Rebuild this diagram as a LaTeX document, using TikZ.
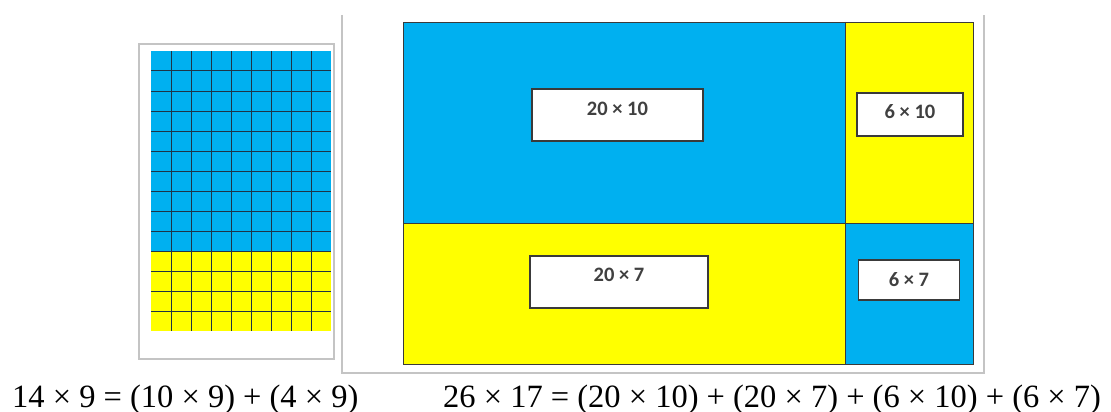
\documentclass[tikz,border=0pt]{standalone}
\usepackage{fontspec}
\newfontfamily\eqfont{Liberation Serif}
\newfontfamily\lblfont{Carlito}
\definecolor{cblue}{HTML}{00B0F0}
\definecolor{cyellow}{HTML}{FFFF00}
\definecolor{frame}{HTML}{C4C4C4}
\definecolor{edge}{HTML}{3A3A3A}
\definecolor{gridc}{HTML}{1E3446}
\definecolor{lbltext}{HTML}{404040}
\tikzset{
  part/.style={draw=edge, line width=0.8pt},
  framebox/.style={draw=frame, line width=1.4pt},
  lbl/.style={draw=edge, fill=white, line width=1.3pt, inner sep=0pt,
    font=\lblfont\bfseries\fontsize{20.5}{24}\selectfont, text=lbltext, text height=12pt},
  eq/.style={font=\eqfont\fontsize{32.5}{38}\selectfont, anchor=base west, inner sep=0pt}
}
\begin{document}
\begin{tikzpicture}[x=1pt,y=-1pt]
\useasboundingbox[fill=white] (0,0) rectangle (1111,412);
% left frame and grid
\draw[framebox] (139,44) rectangle (334,359);
\fill[cblue] (151,51) rectangle (331,251);
\fill[cyellow] (151,251) rectangle (331,331);
\foreach \i in {1,...,8} \draw[gridc, line width=1pt] (151+20*\i,51) -- (151+20*\i,331);
\foreach \j in {1,...,13} \draw[gridc, line width=1pt] (151,51+20*\j) -- (331,51+20*\j);
% right frame (open top)
\draw[framebox] (342,15) -- (342,373) -- (984,373) -- (984,15);
% area model
\fill[cblue] (403,22) rectangle (845,223);
\fill[cyellow] (845,22) rectangle (973,223);
\fill[cyellow] (403,223) rectangle (845,364);
\fill[cblue] (845,223) rectangle (973,364);
\draw[part] (403,22) rectangle (973,364);
\draw[part] (845,22) -- (845,364);
\draw[part] (403,223) -- (973,223);
% labels
\node[lbl, minimum width=171pt, minimum height=52pt, text depth=12pt] (a) at (617.5,115) {20 × 10};
\node[lbl, minimum width=106pt, minimum height=43pt, text depth=5pt] (b) at (910,114.5) {6 × 10};
\node[lbl, minimum width=178pt, minimum height=52pt, text depth=14pt] (c) at (619,282) {20 × 7};
\node[lbl, minimum width=101pt, minimum height=40pt, text depth=0pt] (d) at (909,280) {6 × 7};
% equations
\node[eq] (e1) at (12,407) {14 × 9 = (10 × 9) + (4 × 9)};
\node[eq] (e2) at (443,407) {26 × 17 = (20 × 10) + (20 × 7) + (6 × 10) + (6 × 7)};
\end{tikzpicture}
\end{document}
